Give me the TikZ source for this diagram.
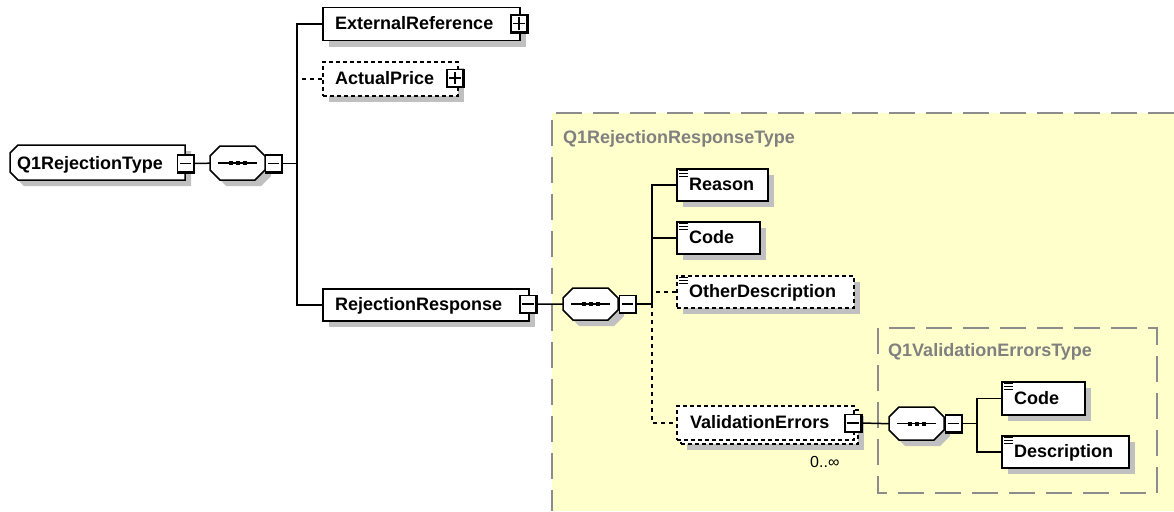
\documentclass[tikz,border=0pt]{standalone}
\usepackage{fontspec}
\setmainfont{Liberation Sans}
\usetikzlibrary{shadows}
\definecolor{yel}{RGB}{255,255,204}
\definecolor{shd}{RGB}{192,192,192}
\definecolor{bord}{RGB}{140,140,140}
\definecolor{ttl}{RGB}{128,128,128}
\tikzset{
 elembox/.style={draw, fill=white, line width=1.5pt, inner sep=0pt, anchor=north west,
   drop shadow={shadow xshift=6pt, shadow yshift=-6pt, fill=shd, opacity=1}},
 optbox/.style={elembox, dash pattern=on 4pt off 3pt},
 optboxns/.style={draw, fill=white, line width=1.5pt, inner sep=0pt, anchor=north west, dash pattern=on 4pt off 3pt},
 lbl/.style={inner sep=0pt, anchor=west, text height=13pt, text depth=0pt, font=\fontsize{18}{20}\selectfont\bfseries},
 ttlst/.style={lbl, text=ttl},
 btnst/.style={draw, fill=white, line width=1.2pt, minimum width=16pt, minimum height=17pt, inner sep=0pt},
 conn/.style={line width=1.5pt},
 dconn/.style={line width=1.5pt, dash pattern=on 4pt off 4pt},
 grp/.style={draw=bord, line width=1.6pt, dash pattern=on 26pt off 11pt},
 invis/.style={inner sep=0pt, anchor=north west},
}
\newcommand\btn[4]{%
  \node[btnst] (#1) at (#2,#3) {};
  \draw[line width=2.2pt] (#1.north east) -- (#1.south east) -- (#1.south west);
  \draw[line width=1.3pt] ([xshift=3pt]#1.west) -- ([xshift=-3pt]#1.east);
  \ifnum#4=1 \draw[line width=1.3pt] ([yshift=3pt]#1.south) -- ([yshift=-3pt]#1.north);\fi
}
\newcommand\simpleicon[1]{%
  \foreach \d in {2.5,5.5,8.5} \draw[line width=1pt] ([shift={(3pt,-\d pt)}]#1.north west) -- ++(9,0);
}
\newcommand\seqnode[5]{%
  \node[invis, minimum width=#4pt, minimum height=#5pt] (#1) at (#2,#3) {};
  \fill[shd] ([shift={(16pt,-6pt)}]#1.north west) -- ++(#4-20,0) -- ++(10,10) -- ++(0,#5-20) -- ++(-10,10) -- ++(-#4+20,0) -- ++(-10,-10) -- ++(0,-#5+20) -- cycle;
  \draw[line width=1.5pt, fill=white] ([xshift=10pt]#1.north west) -- ++(#4-20,0) -- ++(10,10) -- ++(0,#5-20) -- ++(-10,10) -- ++(-#4+20,0) -- ++(-10,-10) -- ++(0,-#5+20) -- cycle;
  \draw[line width=1.5pt] ([xshift=8pt]#1.west) -- ([xshift=-8pt]#1.east);
  \foreach \dx in {-7,0,7} \fill ([xshift=\dx pt]#1.center) +(-2,-2) rectangle +(2,2);
}
\begin{document}
\begin{tikzpicture}[x=1pt,y=-1pt]
\useasboundingbox (0,0) rectangle (1174,511);
\fill[white] (0,0) rectangle (1174,511);
% group backgrounds
\fill[yel] (552,113) rectangle (1174,511);
\draw[grp] (1174,113) -- (552,113) -- (552,511);
\node[ttlst] (t1) at (563,137) {Q1RejectionResponseType};
\draw[grp] (878,328) rectangle (1157,493);
\node[ttlst] (t2) at (888,350) {Q1ValidationErrorsType};

% root element
\node[invis, minimum width=175pt, minimum height=35pt] (q1) at (10,145) {};
\fill[shd] ([shift={(14pt,-6pt)}]q1.north west) -- ++(167,0) -- ++(0,35) -- ++(-167,0) -- ++(-8,-8) -- ++(0,-19) -- cycle;
\draw[line width=1.5pt, fill=white] ([xshift=8pt]q1.north west) -- ++(167,0) -- ++(0,35) -- ++(-167,0) -- ++(-8,-8) -- ++(0,-19) -- cycle;
\node[lbl] (q1t) at (17,162.5) {Q1RejectionType};
\btn{q1b}{185.5}{163.5}{0}

\seqnode{seq1}{210}{146}{55}{34}
\btn{seq1b}{273.5}{163.5}{0}

% level 1 children
\node[elembox, minimum width=197pt, minimum height=33pt] (ext) at (322,7) {};
\node[lbl] (extt) at (335,23.5) {ExternalReference};
\btn{extb}{519}{23.5}{1}

\node[optbox, minimum width=135pt, minimum height=34pt] (ap) at (322,61) {};
\node[lbl] (apt) at (335,78) {ActualPrice};
\btn{apb}{455}{78}{1}

\node[elembox, minimum width=206pt, minimum height=32pt] (rr) at (322,288) {};
\node[lbl] (rrt) at (335,304) {RejectionResponse};
\btn{rrb}{528}{304}{0}

\coordinate (j1) at (297,163.5);
\draw[conn] (q1b.east) -- (seq1.west);
\draw[conn] (seq1b.east) -- (j1);
\draw[conn] (ext.west) -| (j1) |- (rr.west);
\draw[dconn] (ap.west) -- (ap.west -| j1);

% Q1RejectionResponseType
\seqnode{seq2}{563}{288}{55}{32}
\btn{seq2b}{627.5}{304}{0}

\node[elembox, minimum width=91pt, minimum height=32pt] (reason) at (676,168) {};
\simpleicon{reason}
\node[lbl] (reasont) at (689,184) {Reason};

\node[elembox, minimum width=83pt, minimum height=32pt] (code) at (676,221) {};
\simpleicon{code}
\node[lbl] (codet) at (689,237) {Code};

\node[optbox, minimum width=177pt, minimum height=32pt] (od) at (676,275) {};
\simpleicon{od}
\node[lbl] (odt) at (689,291) {OtherDescription};

\node[optbox, minimum width=177pt, minimum height=34pt] (veback) at (680,409) {};
\node[optboxns, minimum width=177pt, minimum height=34pt] (ve) at (676,405) {};
\node[lbl] (vet) at (690,422) {ValidationErrors};
\btn{veb}{853}{423}{0}
\node[inner sep=0pt, anchor=west, font=\fontsize{16}{18}\selectfont] (card) at (810,462) {0..∞};

\coordinate (j2) at (652,304);
\draw[conn] (rrb.east) -- (seq2.west);
\draw[conn] (seq2b.east) -- (j2);
\draw[conn] (reason.west) -| (j2);
\draw[conn] (code.west) -- (code.west -| j2);
\draw[dconn] (od.west) -- (od.west -| j2);
\draw[dconn] (j2) |- (ve.west);

% Q1ValidationErrorsType
\seqnode{seq3}{889}{407}{55}{33}
\btn{seq3b}{953.5}{423.5}{0}

\node[elembox, minimum width=83pt, minimum height=33pt] (code2) at (1001,381) {};
\simpleicon{code2}
\node[lbl] (code2t) at (1014,397.5) {Code};

\node[elembox, minimum width=127pt, minimum height=32pt] (desc) at (1001,435) {};
\simpleicon{desc}
\node[lbl] (desct) at (1014,451) {Description};

\coordinate (j3) at (977,423.5);
\draw[conn] (veb.east) -- (seq3.west);
\draw[conn] (seq3b.east) -- (j3);
\draw[conn] (code2.west) -| (j3) |- (desc.west);
\end{tikzpicture}
\end{document}
